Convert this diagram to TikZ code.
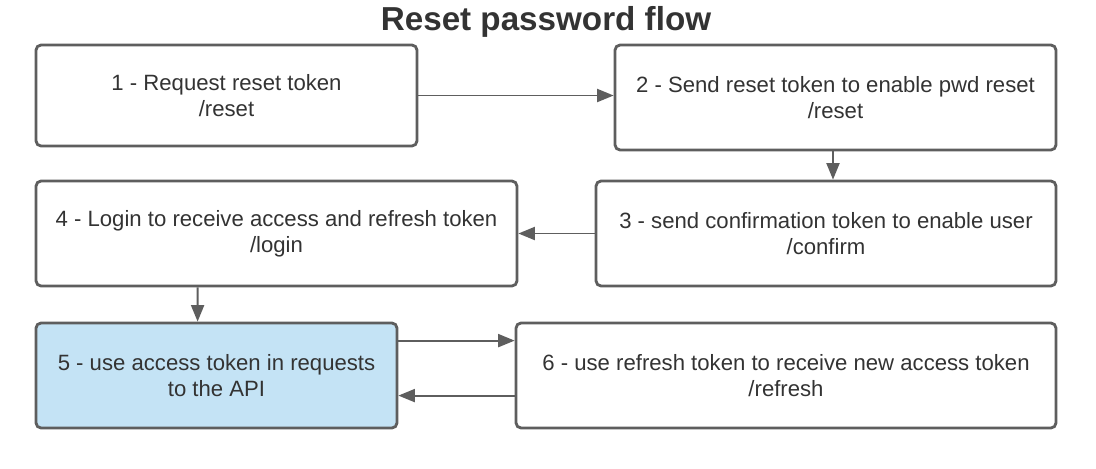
\documentclass[tikz,border=0pt]{standalone}
\usepackage{fontspec}
\setmainfont{Liberation Sans}
\usetikzlibrary{arrows.meta}
\definecolor{edgegray}{HTML}{5E5E5E}
\definecolor{textgray}{HTML}{333333}
\definecolor{apiblue}{HTML}{C4E3F5}
\tikzset{
  stagebox/.style={draw=edgegray, line width=1.6pt, rounded corners=0.1cm, fill=white,
    align=center, text=textgray, font=\fontsize{12.6}{14.8}\selectfont, inner sep=0pt},
  flowarrow/.style={draw=edgegray, line width=1.1pt, -{Triangle[length=0.33cm,width=0.26cm]}}
}
\begin{document}
\begin{tikzpicture}[x=0.02cm,y=-0.02cm]
\useasboundingbox (0,0) rectangle (1096,468);
\node[text=textgray, font=\fontsize{18.9}{22}\selectfont\bfseries] (title) at (546,22) {Reset password flow};
\node[stagebox, minimum width=7.62cm, minimum height=2.02cm] (reset) at (226.5,95.5) {1 - Request reset token\\/reset};
\node[stagebox, minimum width=8.82cm, minimum height=2.1cm] (send) at (835.5,97.5) {2 - Send reset token to enable pwd reset\\/reset};
\node[stagebox, minimum width=9.2cm, minimum height=2.1cm] (confirm) at (826,233.5) {3 - send confirmation token to enable user\\/confirm};
\node[stagebox, minimum width=9.62cm, minimum height=2.1cm] (login) at (276.5,233.5) {4 - Login to receive access and refresh token\\/login};
\node[stagebox, fill=apiblue, minimum width=7.22cm, minimum height=2.1cm] (api) at (216.5,375.5) {5 - use access token in requests\\to the API};
\node[stagebox, minimum width=10.8cm, minimum height=2.1cm] (refresh) at (786,375.5) {6 - use refresh token to receive new access token\\/refresh};
\draw[flowarrow] (reset.east) -- (reset.east -| send.west);
\draw[flowarrow] ([xshift=-0.05cm]send.south) -- ([xshift=-0.05cm]send.south |- confirm.north);
\draw[flowarrow] (confirm.west) -- (confirm.west -| login.east);
\draw[flowarrow] ([xshift=3.26cm]login.south west) -- ([xshift=3.26cm]api.north west);
\draw[flowarrow] ([yshift=-0.38cm]api.north east) -- ([yshift=-0.38cm]refresh.north west);
\draw[flowarrow] ([yshift=-1.48cm]refresh.north west) -- ([yshift=-1.48cm]api.north east);
\end{tikzpicture}
\end{document}
